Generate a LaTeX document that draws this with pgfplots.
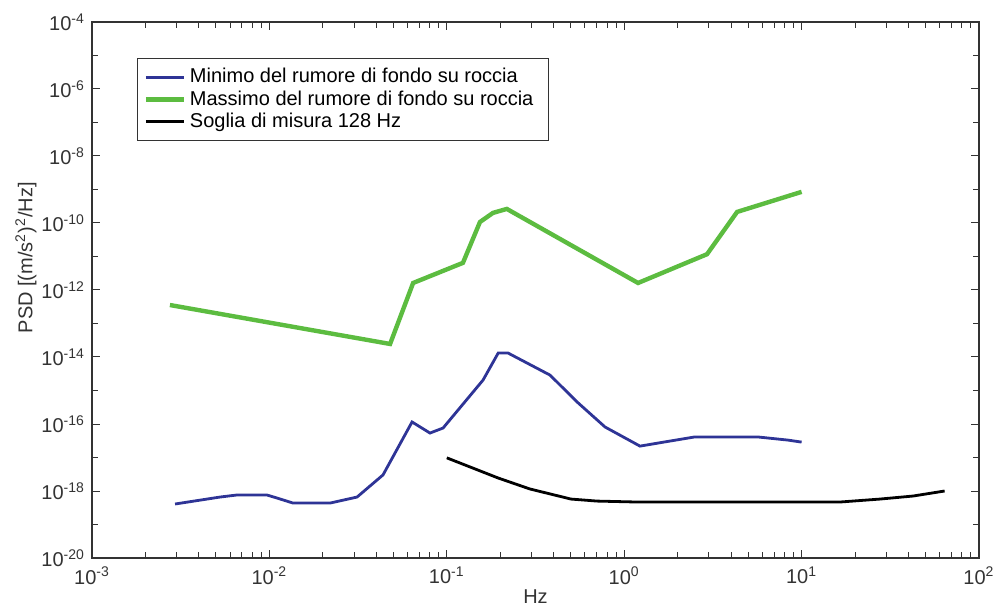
\documentclass[border=0pt]{standalone}
\usepackage{fontspec}
\setmainfont{Liberation Sans}
\usepackage{pgfplots}
\pgfplotsset{compat=1.18}
\definecolor{minblue}{RGB}{46,52,150}
\definecolor{maxgreen}{RGB}{92,188,64}
\begin{document}
\begin{tikzpicture}
\useasboundingbox (-46pt,-25pt) rectangle (451pt,279pt);
\begin{axis}[
  at={(0,0)}, anchor=south west,
  scale only axis, width=443.5pt, height=268pt,
  xmode=log, ymode=log,
  xmin=1e-3, xmax=1e2, ymin=1e-20, ymax=1e-4,
  xtick={1e-3,1e-2,1e-1,1e0,1e1,1e2},
  xticklabels={10\textsuperscript{-3},10\textsuperscript{-2},10\textsuperscript{-1},10\textsuperscript{0},10\textsuperscript{1},10\textsuperscript{2}},
  ytick={1e-20,1e-18,1e-16,1e-14,1e-12,1e-10,1e-8,1e-6,1e-4},
  yticklabels={10\textsuperscript{-20},10\textsuperscript{-18},10\textsuperscript{-16},10\textsuperscript{-14},10\textsuperscript{-12},10\textsuperscript{-10},10\textsuperscript{-8},10\textsuperscript{-6},10\textsuperscript{-4}},
  minor ytick={1e-19,1e-17,1e-15,1e-13,1e-11,1e-9,1e-7,1e-5},
  major tick length=4pt, minor tick length=3pt,
  tick style={black!80, line width=0.5pt},
  axis line style={black!80, line width=0.7pt},
  tick label style={font=\fontsize{10}{11}\selectfont, text=black!80},
  xticklabel style={yshift=-1pt},
  xlabel={Hz}, ylabel={PSD [(m/s\textsuperscript{2})\textsuperscript{2}/Hz]},
  label style={font=\fontsize{10}{11}\selectfont, text=black!80},
  xlabel style={at={(axis description cs:0.5,0)}, anchor=center, yshift=-19.5pt},
  ylabel style={at={(axis description cs:-0.0744,0.56)}, anchor=center},
  legend style={at={(0.0507,0.933)}, anchor=north west, draw=black!80, line width=0.6pt,
    font=\fontsize{10}{11}\selectfont, inner xsep=3pt, inner ysep=3pt, row sep=-1.6pt},
  legend cell align=left,
  legend image code/.code={\draw[#1] (0pt,0pt) -- (19pt,0pt);},
]
\addplot[color=minblue, line width=1.4pt] coordinates {
(2.94e-3,4.09e-19) (5.27e-3,6.6e-19) (6.56e-3,7.6e-19) (9.68e-3,7.6e-19)
(1.104e-2,6.17e-19) (1.358e-2,4.37e-19) (2.20e-2,4.37e-19) (3.12e-2,6.6e-19)
(4.37e-2,3.02e-18) (6.37e-2,1.15e-16) (8.04e-2,5.37e-17) (9.53e-2,7.59e-17)
(0.160,2.04e-15) (0.195,1.32e-14) (0.221,1.32e-14) (0.382,2.88e-15)
(0.542,4.57e-16) (0.780,8.13e-17) (1.227,2.19e-17) (2.47,4.07e-17)
(5.75,4.07e-17) (8.37,3.31e-17) (10,2.88e-17)
};
\addlegendentry{Minimo del rumore di fondo su roccia}
\addplot[color=maxgreen, line width=2.2pt] coordinates {
(2.75e-3,3.56e-13) (4.79e-2,2.45e-14) (6.46e-2,1.62e-12) (0.1233,6.46e-12)
(0.1538,1.07e-10) (0.182,2.0e-10) (0.218,2.63e-10) (1.197,1.62e-12)
(2.93,1.17e-11) (4.33,2.14e-10) (10,8.5e-10)
};
\addlegendentry{Massimo del rumore di fondo su roccia\hspace*{2.5pt}}
\addplot[color=black, line width=1.4pt] coordinates {
(0.1,9.77e-18) (0.1945,2.45e-18) (0.294,1.15e-18) (0.501,5.75e-19)
(0.703,5.0e-19) (1.197,4.68e-19) (16.4,4.68e-19) (27.7,5.75e-19)
(42.5,7.08e-19) (64,1.0e-18)
};
\addlegendentry{Soglia di misura 128 Hz}
\end{axis}
\end{tikzpicture}
\end{document}
